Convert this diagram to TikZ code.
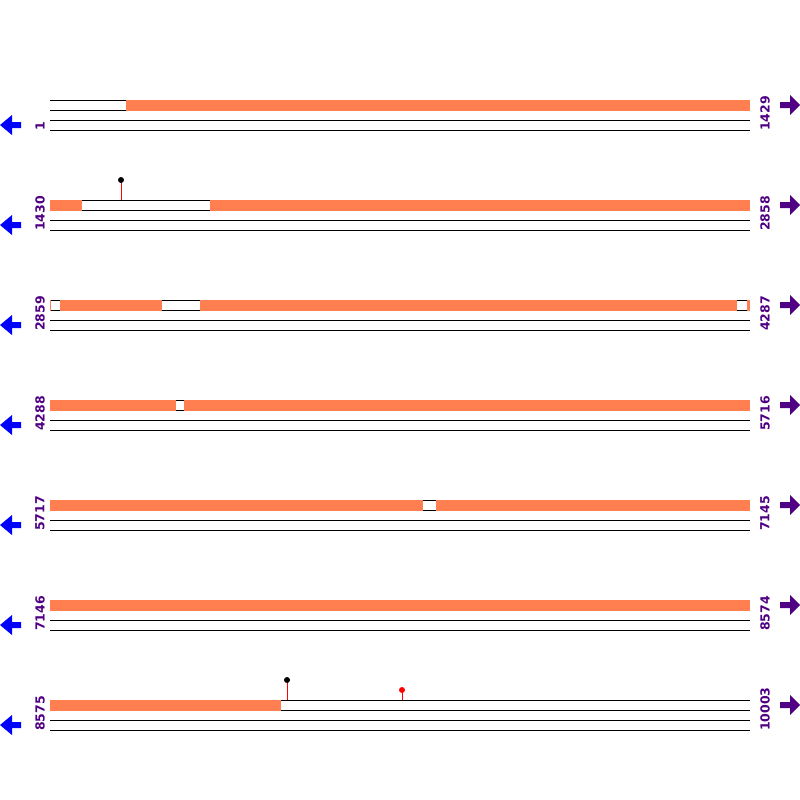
\documentclass[tikz,border=0pt]{standalone}
\usepackage{fontspec}
\setmainfont{DejaVu Sans}
\usepackage{xcolor}
\usetikzlibrary{positioning}
\definecolor{seqorange}{RGB}{255,127,80}
\definecolor{numpurple}{RGB}{80,0,130}

\begin{document}
\begin{tikzpicture}[x=1pt, y=-1pt,
  track/.style={line width=1pt},
  covered/.style={fill=seqorange},
  poslabel/.style={rotate=90, anchor=west, inner sep=0pt, text=numpurple,
                   font=\fontsize{12.5}{12.5}\selectfont\bfseries},
  fwdarrow/.style={fill=numpurple},
  revarrow/.style={fill=blue},
  pin/.style={circle, inner sep=0pt, minimum size=6pt},
  stem/.style={red, line width=1pt}
]
  \useasboundingbox (0,0) rectangle (800,800);

  % tracks and strand arrows
  \foreach \t in {100,200,...,700} {
    \draw[track] (50,\t) -- (750,\t);
    \draw[track] (50,\t+10) -- (750,\t+10);
    \draw[track] (50,\t+20) -- (750,\t+20);
    \draw[track] (50,\t+30) -- (750,\t+30);
    \fill[fwdarrow] (780,\t+2) -- (790,\t+2) -- (790,\t-5) -- (800,\t+5)
                    -- (790,\t+15) -- (790,\t+8) -- (780,\t+8) -- cycle;
    \fill[revarrow] (21,\t+22) -- (12,\t+22) -- (12,\t+15) -- (0,\t+25)
                    -- (12,\t+35) -- (12,\t+28) -- (21,\t+28) -- cycle;
  }

  % covered regions
  \fill[covered] (126,100) rectangle (750,110.5);
  \fill[covered] (50,200) rectangle (82,210.5);
  \fill[covered] (210,200) rectangle (750,210.5);
  \fill[covered] (50,300) rectangle (51,310.5);
  \fill[covered] (60,300) rectangle (162,310.5);
  \fill[covered] (200,300) rectangle (737,310.5);
  \fill[covered] (747,300) rectangle (750,310.5);
  \fill[covered] (50,400) rectangle (176,410.5);
  \fill[covered] (184,400) rectangle (750,410.5);
  \fill[covered] (50,500) rectangle (423,510.5);
  \fill[covered] (436,500) rectangle (750,510.5);
  \fill[covered] (50,600) rectangle (750,610.5);
  \fill[covered] (50,700) rectangle (281,710.5);

  % positions
  \node[poslabel] (s1) at (40,131) {1};
  \node[poslabel] (e1) at (765,131) {1429};
  \node[poslabel] (s2) at (40,231) {1430};
  \node[poslabel] (e2) at (765,231) {2858};
  \node[poslabel] (s3) at (40,331) {2859};
  \node[poslabel] (e3) at (765,331) {4287};
  \node[poslabel] (s4) at (40,431) {4288};
  \node[poslabel] (e4) at (765,431) {5716};
  \node[poslabel] (s5) at (40,531) {5717};
  \node[poslabel] (e5) at (765,531) {7145};
  \node[poslabel] (s6) at (40,631) {7146};
  \node[poslabel] (e6) at (765,631) {8574};
  \node[poslabel] (s7) at (40,731) {8575};
  \node[poslabel] (e7) at (765,731) {10003};

  % sites
  \node[pin, fill=black] (site1) at (121,180) {};
  \coordinate (foot1) at (121,200);
  \draw[stem] (foot1) -- (site1);
  \node[pin, fill=black] (site2) at (287,680) {};
  \coordinate (foot2) at (287,700);
  \draw[stem] (foot2) -- (site2);
  \node[pin, fill=red] (site3) at (402,690) {};
  \coordinate (foot3) at (402,700);
  \draw[stem] (foot3) -- (site3);
\end{tikzpicture}
\end{document}
